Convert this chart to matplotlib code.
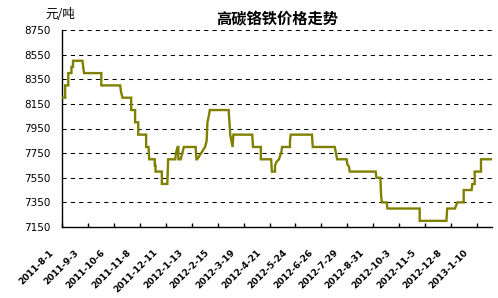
import matplotlib
matplotlib.use("Agg")
import matplotlib.pyplot as plt
import matplotlib.transforms as mtransforms
import pandas as pd

title = "高碳铬铁价格走势"
unit_label = "元/吨"

dates = [
    "2011-08-01", "2011-08-05", "2011-08-05", "2011-08-09", "2011-08-09", "2011-08-13",
    "2011-08-13", "2011-08-15", "2011-08-15", "2011-08-27", "2011-08-29", "2011-09-20",
    "2011-09-20", "2011-10-14", "2011-10-15", "2011-10-17", "2011-10-28", "2011-10-28",
    "2011-11-02", "2011-11-02", "2011-11-06", "2011-11-06", "2011-11-16", "2011-11-16",
    "2011-11-19", "2011-11-20", "2011-11-27", "2011-11-27", "2011-11-28", "2011-11-28",
    "2011-12-06", "2011-12-06", "2011-12-13", "2011-12-14", "2011-12-23", "2011-12-24",
    "2011-12-26", "2011-12-27", "2011-12-27", "2011-12-30", "2012-01-01", "2012-01-03",
    "2012-01-18", "2012-01-19", "2012-01-20", "2012-01-30", "2012-02-01", "2012-02-02",
    "2012-02-04", "2012-02-05", "2012-02-29", "2012-03-01", "2012-03-02", "2012-03-05",
    "2012-03-06", "2012-03-30", "2012-03-31", "2012-04-10", "2012-04-10", "2012-04-23",
    "2012-04-24", "2012-04-28", "2012-04-28", "2012-04-30", "2012-05-03", "2012-05-06",
    "2012-05-07", "2012-05-17", "2012-05-17", "2012-05-18", "2012-06-14", "2012-06-15",
    "2012-07-13", "2012-07-16", "2012-07-28", "2012-07-29", "2012-07-31", "2012-08-01",
    "2012-09-03", "2012-09-04", "2012-09-09", "2012-09-10", "2012-09-11", "2012-09-17",
    "2012-09-18", "2012-10-29", "2012-10-29", "2012-12-02", "2012-12-03", "2012-12-13",
    "2012-12-14", "2012-12-16", "2012-12-24", "2012-12-24", "2013-01-03", "2013-01-04",
    "2013-01-07", "2013-01-07", "2013-01-15", "2013-01-15", "2013-01-29",
]
prices = [
    8200, 8200, 8300, 8300, 8400, 8400,
    8450, 8450, 8500, 8500, 8400, 8400,
    8300, 8300, 8250, 8200, 8200, 8100,
    8100, 8000, 8000, 7900, 7900, 7800,
    7800, 7700, 7700, 7650, 7650, 7600,
    7600, 7500, 7500, 7700, 7700, 7750,
    7800, 7800, 7700, 7700, 7750, 7800,
    7800, 7700, 7700, 7800, 7850, 8000,
    8060, 8100, 8100, 8000, 7900, 7800,
    7900, 7900, 7800, 7800, 7700, 7700,
    7600, 7600, 7650, 7680, 7700, 7760,
    7800, 7800, 7850, 7900, 7900, 7800,
    7800, 7700, 7700, 7660, 7640, 7600,
    7600, 7550, 7550, 7400, 7350, 7350,
    7300, 7300, 7200, 7200, 7300, 7300,
    7320, 7350, 7350, 7450, 7450, 7500,
    7500, 7600, 7600, 7700, 7700,
]
tick_dates = [
    "2011-08-01", "2011-09-03", "2011-10-06", "2011-11-08", "2011-12-11", "2012-01-13",
    "2012-02-15", "2012-03-19", "2012-04-21", "2012-05-24", "2012-06-26", "2012-07-29",
    "2012-08-31", "2012-10-03", "2012-11-05", "2012-12-08", "2013-01-10",
]
tick_labels = [
    "2011-8-1", "2011-9-3", "2011-10-6", "2011-11-8", "2011-12-11", "2012-1-13",
    "2012-2-15", "2012-3-19", "2012-4-21", "2012-5-24", "2012-6-26", "2012-7-29",
    "2012-8-31", "2012-10-3", "2012-11-5", "2012-12-8", "2013-1-10",
]
y_ticks = [7150, 7350, 7550, 7750, 7950, 8150, 8350, 8550, 8750]

x = pd.to_datetime(dates)
xt = pd.to_datetime(tick_dates)

fig = plt.figure(figsize=(4.98, 2.98), dpi=100)
ax = fig.add_axes([62/498, 1-227/298, (492-62)/498, (227-30)/298])

ax.plot(x, prices, color="#808000", linewidth=1.7, solid_joinstyle="miter", zorder=3)

ax.set_ylim(7150, 8750)
ax.set_xlim(pd.Timestamp("2011-08-01"), pd.Timestamp("2013-01-29"))
ax.set_yticks(y_ticks)
ax.set_yticklabels([str(v) for v in y_ticks], fontsize=7.5, family="DejaVu Sans")
ax.tick_params(axis="y", length=0, pad=8)

ax.set_xticks(xt)
ax.set_xticklabels(tick_labels, rotation=45, ha="right", va="top",
                   fontsize=6.5, fontweight="bold", family="DejaVu Sans")
ax.tick_params(axis="x", direction="in", length=3, width=1, pad=15)
offset = mtransforms.ScaledTranslation(-7/100, 0, fig.dpi_scale_trans)
for lab in ax.get_xticklabels():
    lab.set_transform(lab.get_transform() + offset)

ax.grid(axis="y", color="black", linestyle=(0, (4, 4)), linewidth=0.75)
ax.set_axisbelow(True)
for s in ["top", "right"]:
    ax.spines[s].set_visible(False)
for s in ["left", "bottom"]:
    ax.spines[s].set_linewidth(1.0)
    ax.spines[s].set_color("black")

fig.text(277/498, 1-19/298, title, ha="center", va="center", fontsize=11,
         fontweight="bold", family=["Noto Sans CJK SC", "DejaVu Sans"])
fig.text(45/498, 1-15/298, unit_label, ha="left", va="center", fontsize=9,
         family=["Noto Sans CJK SC", "DejaVu Sans"])

fig.savefig("out.png", dpi=100)
